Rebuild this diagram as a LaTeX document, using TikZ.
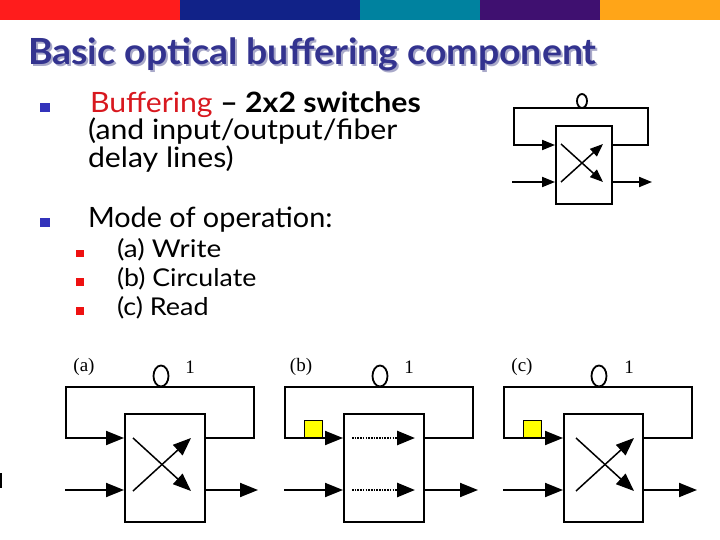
\documentclass[tikz,border=0pt]{standalone}
\usepackage{fontspec}
\usepackage{graphicx}
\setmainfont{Lato}
\newfontfamily\serifdiag{Liberation Serif}
\usetikzlibrary{arrows.meta,shapes.geometric}
\definecolor{barred}{HTML}{FF1C1C}
\definecolor{barblue}{HTML}{112288}
\definecolor{barteal}{HTML}{00829F}
\definecolor{barpurple}{HTML}{3F1070}
\definecolor{barorange}{HTML}{FFA518}
\definecolor{titleblue}{HTML}{33338F}
\definecolor{titleshade}{HTML}{A9A9C9}
\definecolor{bulletblue}{HTML}{3333BB}
\definecolor{bulletred}{HTML}{EE1111}
\definecolor{wordred}{HTML}{D8181F}
\definecolor{lampyellow}{HTML}{FFFF00}
\tikzset{
  x=1pt,y=-1pt,
  txt/.style={anchor=base west,inner sep=0pt,outer sep=0pt},
  bar/.style={fill=#1,draw=none},
  bigtext/.style={txt,font=\fontsize{28}{28}\selectfont},
  smalltext/.style={txt,font=\fontsize{24.5}{25}\selectfont},
  diaglabel/.style={anchor=base,inner sep=0pt,font=\serifdiag\fontsize{19}{19}\selectfont},
  wire/.style={line width=1.9pt,line cap=rect,line join=miter},
  thin wire/.style={line width=1.5pt},
  arrowed/.style={-{Triangle[length=18pt,width=14pt]}},
  smallarrow/.style={-{Triangle[length=13pt,width=10pt]}},
  swbox/.style={draw,line width=1.9pt,minimum width=0pt,inner sep=0pt,fill=white},
  fiber/.style={draw,ellipse,line width=1.8pt,inner sep=0pt,fill=white},
  lamp/.style={draw,line width=0.7pt,fill=lampyellow,inner sep=0pt,minimum width=18pt,minimum height=17pt},
  dotpath/.style={line width=2.6pt,dash pattern=on 1.6pt off 1.1pt},
}
\begin{document}
\begin{tikzpicture}
\useasboundingbox (0,0) rectangle (720,540);
% colour bar
\fill[bar=barred] (0,0) rectangle (180,20);
\fill[bar=barblue] (180,0) rectangle (360,20);
\fill[bar=barteal] (360,0) rectangle (480,20);
\fill[bar=barpurple] (480,0) rectangle (600,20);
\fill[bar=barorange] (600,0) rectangle (720,20);
\fill[black] (0,473) rectangle (1.5,488);
% title
\node[txt,text=titleshade] (titleshadow) at (30,67) {\fontsize{36}{36}\selectfont\bfseries\scalebox{1.04}[1]{Basic optical buffering component}};
\node[txt,text=titleblue] (title) at (28,65) {\fontsize{36}{36}\selectfont\bfseries\scalebox{1.04}[1]{Basic optical buffering component}};
% bullets
\fill[bulletblue] (40,103) rectangle (50,112);
\fill[bulletblue] (40,218) rectangle (50,227);
\fill[bulletred] (76,250) rectangle (84,257);
\fill[bulletred] (76,278) rectangle (84,286);
\fill[bulletred] (76,307) rectangle (84,315);
% text
\node[bigtext] (l1) at (90,113) {\scalebox{1.08}[1]{\textcolor{wordred}{Buffering} \textbf{– 2x2 switches}}};
\node[bigtext] (l2) at (88,140) {\scalebox{1.08}[1]{(and input/output/fiber}};
\node[bigtext] (l3) at (88,168) {\scalebox{1.08}[1]{delay lines)}};
\node[bigtext] (l4) at (88,228) {\scalebox{1.03}[1]{Mode of operation:}};
\node[smalltext] (s1) at (117,258) {\scalebox{1.14}[1]{(a) Write}};
\node[smalltext] (s2) at (117,286) {\scalebox{1.09}[1]{(b) Circulate}};
\node[smalltext] (s3) at (117,315) {\scalebox{1.10}[1]{(c) Read}};
% top diagram
\node[swbox,minimum width=56pt,minimum height=78pt] (tb) at (584,165) {};
\coordinate (tl) at (514,145); \coordinate (tr) at (648,145);
\coordinate (tli) at (513,182); \coordinate (tlo) at (652,182);
\draw[wire] (tb.east |- tr) -- (tr) -- (648,108) -- (514,108) -- (tl);
\draw[wire,smallarrow] (tl) -- (tb.west |- tl);
\draw[wire,smallarrow] (tli) -- (tb.west |- tli);
\draw[wire,smallarrow] (tb.east |- tlo) -- (tlo);
\coordinate (tc1) at (561,144); \coordinate (tc2) at (603,182);
\coordinate (tc3) at (561,182); \coordinate (tc4) at (603,144);
\draw[thin wire,smallarrow] (tc1) -- (tc2);
\draw[thin wire,smallarrow] (tc3) -- (tc4);
\node[fiber,minimum width=10pt,minimum height=14pt] (tf) at (582,101) {};
% three lower diagrams
\foreach \p/\lx/\bl/\br/\rx/\tip/\fx/\lb/\lbx/\onex in {a/66/124/204/254/258/161/(a)/84/190,b/285/343/423/473/478/380/(b)/301/409,c/504/563/642/692/697/599/(c)/522/629}{
  \node[swbox,anchor=north west,minimum width={\br-\bl},minimum height=108pt] (\p box) at (\bl,413) {};
  \coordinate (\p ul) at (\lx,438);
  \coordinate (\p ll) at (\lx,490);
  \coordinate (\p ur) at (\rx,438);
  \coordinate (\p lr) at (\tip,490);
  \coordinate (\p tl) at (\lx,387);
  \coordinate (\p tr) at (\rx,387);
  \draw[wire] (\p box.east |- \p ur) -- (\p ur) -- (\p tr) -- (\p tl) -- (\p ul);
  \draw[wire,arrowed] (\p ul) -- (\p box.west |- \p ul);
  \draw[wire,arrowed] (\p ll) -- (\p box.west |- \p ll);
  \draw[wire,arrowed] (\p box.east |- \p lr) -- (\p lr);
  \node[fiber,minimum width=15pt,minimum height=21pt] (\p f) at (\fx,376) {};
  \node[diaglabel] (\p lab) at (\lbx,371) {\lb};
  \node[diaglabel] (\p one) at (\onex,373) {1};
}
% cross connections
\foreach \p/\sx/\ex in {a/133/191,c/576/634}{
  \coordinate (\p c1) at (\sx,438); \coordinate (\p c2) at (\ex,491);
  \coordinate (\p c3) at (\sx,491); \coordinate (\p c4) at (\ex,438);
  \draw[thin wire,arrowed] (\p c1) -- (\p c2);
  \draw[thin wire,arrowed] (\p c3) -- (\p c4);
}
% bar connections
\coordinate (bs1) at (352,438); \coordinate (be1) at (415,438);
\coordinate (bs2) at (352,490); \coordinate (be2) at (415,490);
\draw[dotpath,arrowed] (bs1) -- (be1);
\draw[dotpath,arrowed] (bs2) -- (be2);
% yellow lamps
\node[lamp] (lampb) at (313,428.5) {};
\node[lamp] (lampc) at (532,428.5) {};
\end{tikzpicture}
\end{document}
